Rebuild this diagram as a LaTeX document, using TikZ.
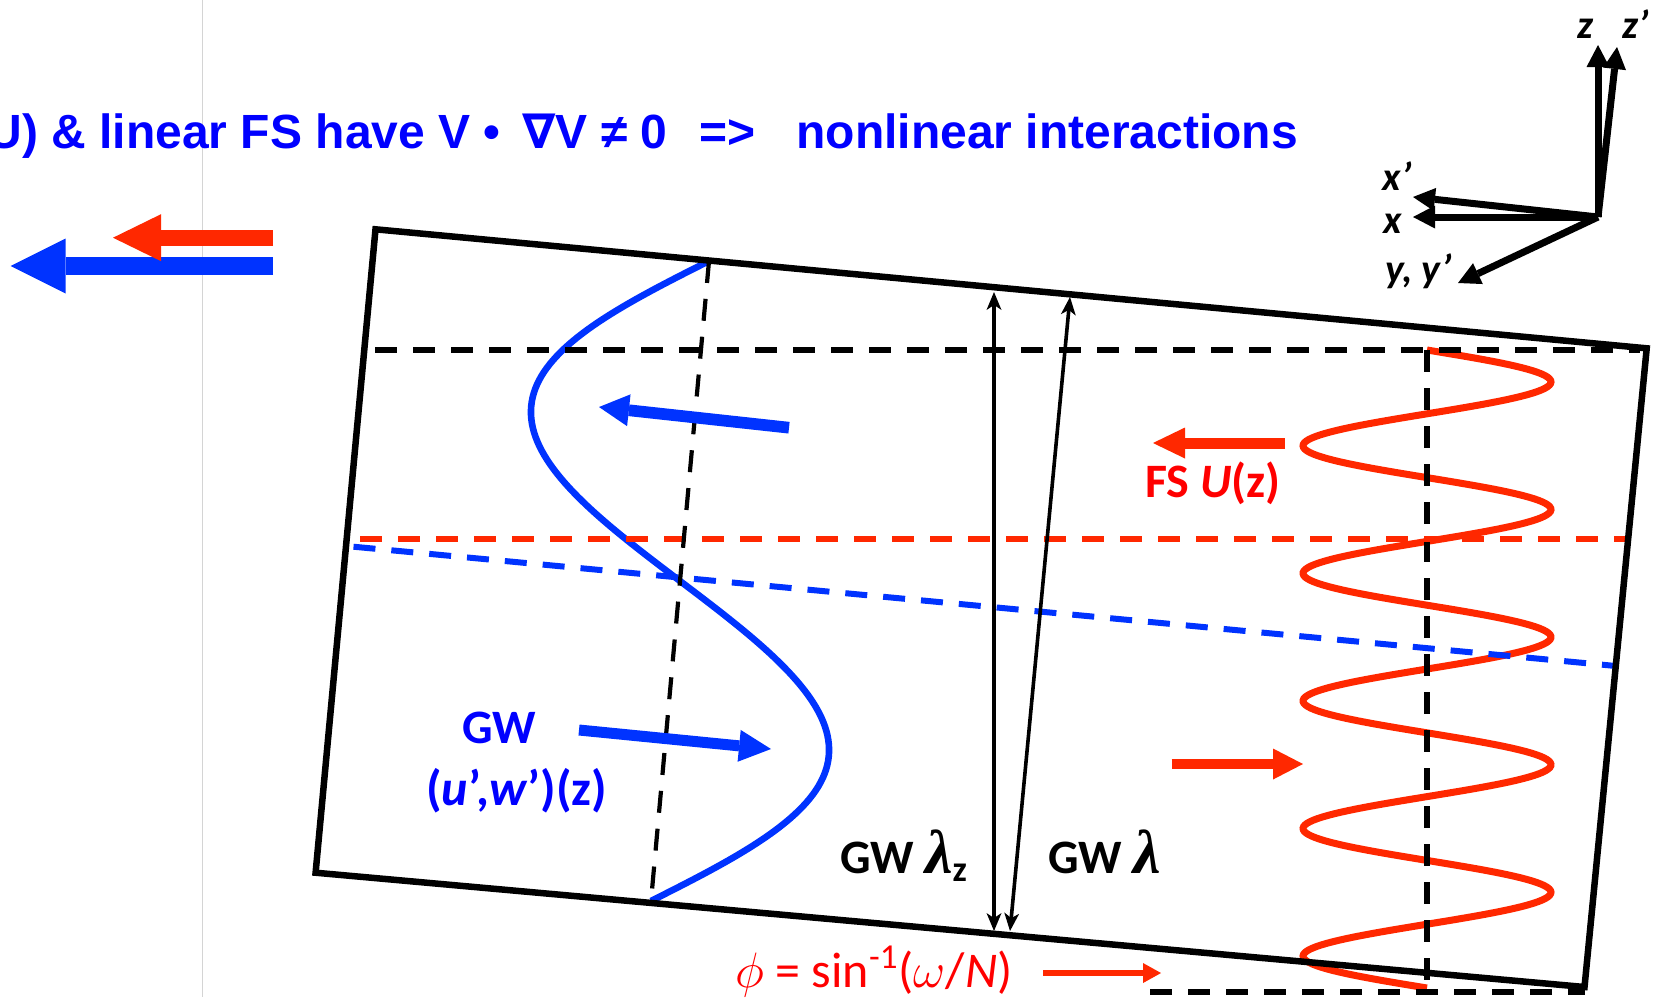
\documentclass[tikz,border=0pt]{standalone}
\usepackage{fontspec}
\usepackage{amsmath,amssymb}
\usetikzlibrary{arrows.meta}
\setmainfont{Carlito}
\newfontfamily\arialf{Liberation Sans}
\newfontfamily\dejavuf{DejaVu Sans}
\newfontfamily\timesf{Liberation Serif}
\definecolor{tblue}{RGB}{0,0,255}
\definecolor{sblue}{RGB}{0,51,255}
\definecolor{sred}{RGB}{255,40,0}
\definecolor{tred}{RGB}{255,0,0}
\definecolor{gline}{RGB}{212,212,212}
\newcommand{\biglam}{{\timesf\bfseries\itshape\fontsize{31}{31}\selectfont λ}}
\begin{document}
\begin{tikzpicture}[x=0.5pt,y=-0.5pt,
  boxline/.style={line width=3.25pt, line join=miter},
  thickdash/.style={line width=3pt, dash pattern=on 11pt off 8pt},
  thindash/.style={line width=2.1pt, dash pattern=on 11pt off 8pt},
  fatarrow/.style n args={4}{draw=#1, line width=#2, -{Triangle[length=#3,width=#4,line width=0pt]}},
  axisarrow/.style={line width=3.5pt, -{Triangle[length=11pt,width=11.5pt,line width=0pt]}},
  dimarrow/.style={line width=1.8pt, {Stealth[length=9pt,width=7.5pt,inset=2.5pt,line width=0pt]}-{Stealth[length=9pt,width=7.5pt,inset=2.5pt,line width=0pt]}},
  titlefont/.style={font=\arialf\bfseries\fontsize{24}{28}\selectfont, text=tblue, inner sep=0pt},
  lbl/.style={font=\bfseries\fontsize{24}{28}\selectfont, inner sep=0pt, anchor=base west},
  axlbl/.style={font=\bfseries\itshape\fontsize{20}{24}\selectfont, inner sep=0pt, anchor=base west},
]
\fill[white] (0,0) rectangle (1664,997);
\useasboundingbox (0,0) rectangle (1664,997);
\draw[gline, line width=0.5pt] (202,0) -- (202,997);

% coordinates
\coordinate (TL) at (375.5,229.3);
\coordinate (TR) at (1646.7,348.3);
\coordinate (BR) at (1584.5,987);
\coordinate (BL) at (315.6,872.7);
\coordinate (O) at (1598,217);

% waves
\draw[sred, line width=3.5pt] plot[domain=0:638, samples=400] ({1427+124*sin(2.82132*\x)},{350+\x});
\draw[sblue, line width=3.3pt] plot[domain=0:1, samples=150] ({651+58*\x+163.3*sin(360*\x)},{901-640*\x+14.8*sin(360*\x)});

% dashed lines
\draw[thickdash] (375,350) -- (1640,350);
\draw[thickdash] (1427,350) -- (1427,988);
\draw[thickdash] (1150,992) -- (1585,992);
\draw[thickdash, sred] (360,539) -- (1629,539);
\draw[thickdash, sblue] (353.5,546.7) -- (1616,666);
\draw[thindash] (709,261) -- (651,901);

% box
\draw[boxline] (TL) -- (TR) -- (BR) -- (BL) -- cycle;

% block arrows
\draw[fatarrow={sblue}{9.35pt}{27.5pt}{27.5pt}] (273,266) -- (10.7,266);
\draw[fatarrow={sred}{7.85pt}{24pt}{23.5pt}] (273,237.7) -- (113,237.7);
\draw[fatarrow={sblue}{5.85pt}{15pt}{16pt}] (789,427.7) -- (599,407);
\draw[fatarrow={sblue}{5.5pt}{16pt}{16pt}] (579,730) -- (771,749);
\draw[fatarrow={sred}{5.5pt}{16pt}{15.5pt}] (1285,443) -- (1153,443);
\draw[fatarrow={sred}{5.3pt}{15pt}{15.5pt}] (1171.5,764) -- (1303,764);
\draw[fatarrow={sred}{3pt}{9pt}{10pt}] (1043,973) -- (1161,973);

% wavelength arrows
\draw[dimarrow] (994,931) -- (994,292);
\draw[dimarrow] (1010,931) -- (1070,297);

% axes
\draw[axisarrow] (O) -- (1598,45);
\draw[axisarrow] (O) -- (1617,47);
\draw[axisarrow] (O) -- (1413,197);
\draw[axisarrow] (O) -- (1413,217);
\draw[axisarrow] (O) -- (1458,283);
\node[axlbl] (az) at (1577,38) {z};
\node[axlbl] (azp) at (1622,38) {z’};
\node[axlbl] (axp) at (1382,190) {x’};
\node[axlbl] (ax) at (1383,233) {x};
\node[axlbl] (ay) at (1385,282) {y, y’};

% title
\node[titlefont, anchor=base east] (t1) at (501,148.5) {U) \& linear FS have V •};
\node[titlefont, anchor=base west] (t1b) at (522,148.5) {{\dejavuf\bfseries ∇}V ≠ 0};
\node[titlefont, anchor=base west] (t2) at (699,148.5) {=>};
\node[titlefont, anchor=base west] (t3) at (796,148.5) {nonlinear interactions};

% labels
\node[lbl, text=tblue] (gw) at (462,743) {GW};
\node[lbl, text=tblue, font=\bfseries\fontsize{25}{30}\selectfont] (uw) at (426,805) {(\textit{u}’,\textit{w}’)(z)};
\node[lbl, text=tred] (fs) at (1145,497) {FS \textit{U}(z)};
\node[lbl] (lamz) at (840,873) {GW \biglam\raisebox{-4pt}{\fontsize{18}{18}\selectfont z}};
\node[lbl] (lam) at (1048,873) {GW \biglam};
\node[font=\fontsize{25}{30}\selectfont, text=tred, inner sep=0pt, anchor=base west] (phi) at (735,987) {$\phi$ = sin\textsuperscript{-1}($\omega$/\textit{N})};
\end{tikzpicture}
\end{document}
